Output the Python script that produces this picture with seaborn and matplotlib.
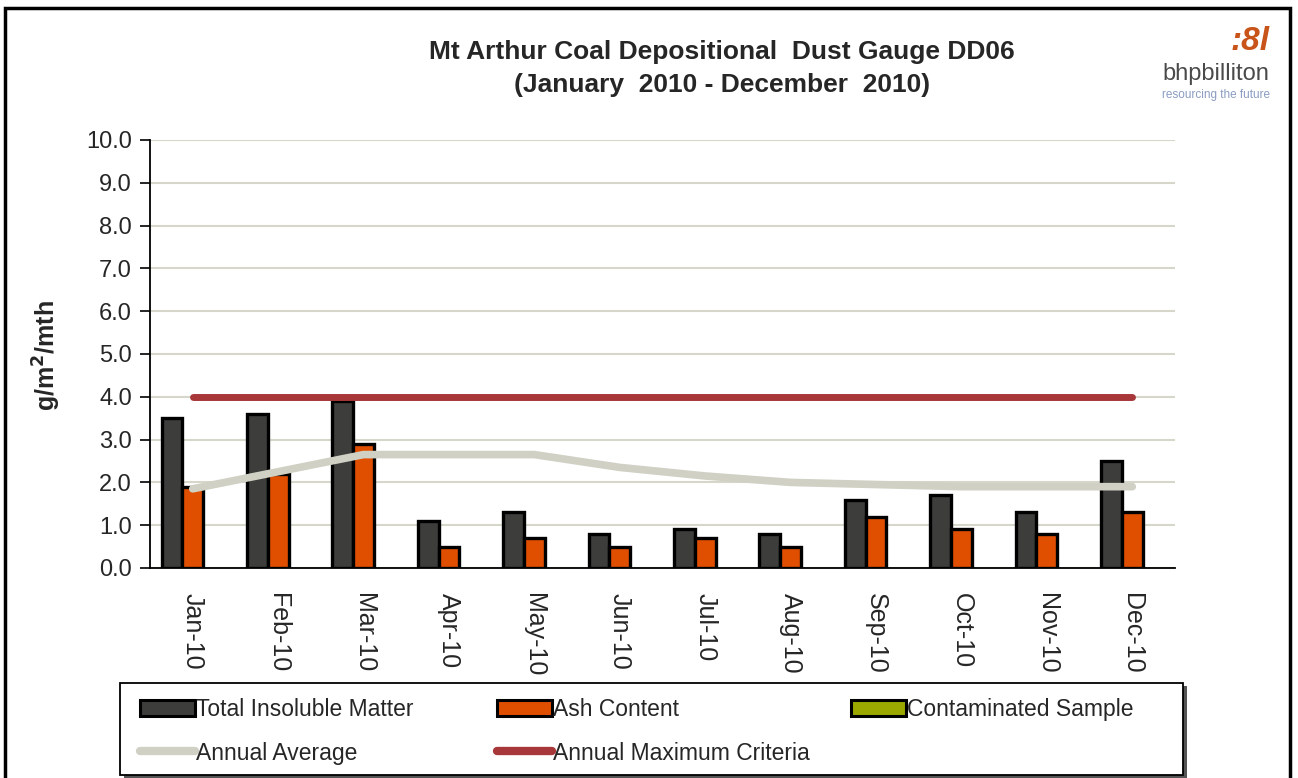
import numpy as np
import pandas as pd
import matplotlib
matplotlib.use("Agg")
import matplotlib.pyplot as plt
from matplotlib.patches import Patch, Rectangle
from matplotlib.lines import Line2D
import seaborn as sns

months = ["Jan-10", "Feb-10", "Mar-10", "Apr-10", "May-10", "Jun-10",
          "Jul-10", "Aug-10", "Sep-10", "Oct-10", "Nov-10", "Dec-10"]
total_insoluble = [3.5, 3.6, 3.9, 1.1, 1.3, 0.8, 0.9, 0.8, 1.6, 1.7, 1.3, 2.5]
ash_content = [1.9, 2.2, 2.9, 0.5, 0.7, 0.5, 0.7, 0.5, 1.2, 0.9, 0.8, 1.3]
contaminated = [np.nan] * 12
annual_average = [1.85, 2.25, 2.65, 2.65, 2.65, 2.35, 2.15, 2.0, 1.95, 1.9, 1.9, 1.9]
annual_max = [4.0] * 12

series = ["Total Insoluble Matter", "Ash Content", "Contaminated Sample"]
colors = {"Total Insoluble Matter": "#3d3e3b",
          "Ash Content": "#e04f00",
          "Contaminated Sample": "#9aa800"}
avg_color = "#d0d0c4"
max_color = "#a8373a"

bars = pd.DataFrame({
    "month": months * 3,
    "series": [series[0]] * 12 + [series[1]] * 12 + [series[2]] * 12,
    "value": total_insoluble + ash_content + contaminated,
})

sns.set_style("white")
plt.rcParams["font.family"] = ["Liberation Sans", "DejaVu Sans"]

W, H = 1298, 778
fig = plt.figure(figsize=(12.98, 7.78), dpi=100)
ax = fig.add_axes([150 / W, 1 - 568 / H, 1025 / W, 428 / H])

ax.yaxis.grid(True, color="#d6d6ca", linewidth=1.5)
ax.set_axisbelow(True)

sns.barplot(data=bars, x="month", y="value", hue="series", hue_order=series,
            palette=colors, edgecolor="black", linewidth=2.4, width=0.73,
            saturation=1, ax=ax, legend=False)

x = np.arange(len(months))
sns.lineplot(x=x, y=annual_average, color=avg_color, linewidth=5.5, ax=ax,
             zorder=4, solid_capstyle="round")
sns.lineplot(x=x, y=annual_max, color=max_color, linewidth=5, ax=ax,
             zorder=4, solid_capstyle="round")

ax.set_xlim(-0.5, 11.5)
ax.set_ylim(0, 10)
yt = np.arange(0, 10.01, 1.0)
ax.set_yticks(yt)
ax.set_yticklabels([f"{v:.1f}" for v in yt], fontsize=17)
ax.set_xticks(x)
ax.set_xticklabels(months, rotation=-90, fontsize=18)
ax.set_xticks(np.arange(-0.5, 12, 1), minor=True)
ax.tick_params(axis="x", which="major", length=0, pad=18)
ax.tick_params(axis="x", which="minor", length=8, width=1.2, direction="out", color="black")
ax.tick_params(axis="y", length=7, width=1.2, direction="out", color="black", pad=6, left=True)
ax.set_xlabel("")
ax.set_ylabel("")
for side in ["top", "right"]:
    ax.spines[side].set_visible(False)
for side in ["left", "bottom"]:
    ax.spines[side].set_color("black")
    ax.spines[side].set_linewidth(1.3)

fig.text(47 / W, 1 - 356 / H, "g/m$^\\mathbf{2}$/mth", rotation=90, fontsize=18,
         fontweight="bold", ha="center", va="center")

fig.text(722 / W, 1 - 52 / H, "Mt Arthur Coal Depositional  Dust Gauge DD06",
         fontsize=19, fontweight="bold", ha="center", va="center")
fig.text(722 / W, 1 - 85 / H, "(January  2010 - December  2010)",
         fontsize=19, fontweight="bold", ha="center", va="center")

# logo as text
fig.text(1250 / W, 1 - 42 / H, ":8l", fontsize=24, fontweight="bold",
         style="italic", color="#c8541a", ha="center", va="center")
fig.text(1216 / W, 1 - 74 / H, "bhpbilliton", fontsize=17, color="#4a4a4a",
         ha="center", va="center")
fig.text(1216 / W, 1 - 95 / H, "resourcing the future", fontsize=8.5,
         color="#8a9cc0", ha="center", va="center")

# legend frame with shadow
fig.patches.append(Rectangle((124 / W, 1 - 778 / H), 1063 / W, 92 / H,
                             transform=fig.transFigure, facecolor="#555555",
                             edgecolor="none", zorder=1))
fig.patches.append(Rectangle((120 / W, 1 - 775 / H), 1063 / W, 92 / H,
                             transform=fig.transFigure, facecolor="white",
                             edgecolor="black", linewidth=1.3, zorder=2))

bar_patch = dict(edgecolor="black", linewidth=2.2)
columns = [
    (140, [Patch(facecolor=colors[series[0]], label=series[0], **bar_patch),
           Line2D([], [], color=avg_color, linewidth=6, label="Annual Average")]),
    (497, [Patch(facecolor=colors[series[1]], label=series[1], **bar_patch),
           Line2D([], [], color=max_color, linewidth=6, label="Annual Maximum Criteria")]),
    (851, [Patch(facecolor=colors[series[2]], label=series[2], **bar_patch)]),
]
for xpos, hs in columns:
    leg = fig.legend(handles=hs, loc="upper left",
                     bbox_to_anchor=(xpos / W, 1 - 698 / H),
                     fontsize=16.5, frameon=False, handlelength=2.4,
                     handletextpad=0.05, handleheight=0.75, labelspacing=0.9,
                     borderaxespad=0, borderpad=0)
    leg.set_zorder(3)

fig.patches.append(Rectangle((5 / W, -0.02), 1285 / W, 1 - 8 / H + 0.02,
                             transform=fig.transFigure, fill=False,
                             edgecolor="black", linewidth=2.5))

fig.savefig("out.png", dpi=100)
